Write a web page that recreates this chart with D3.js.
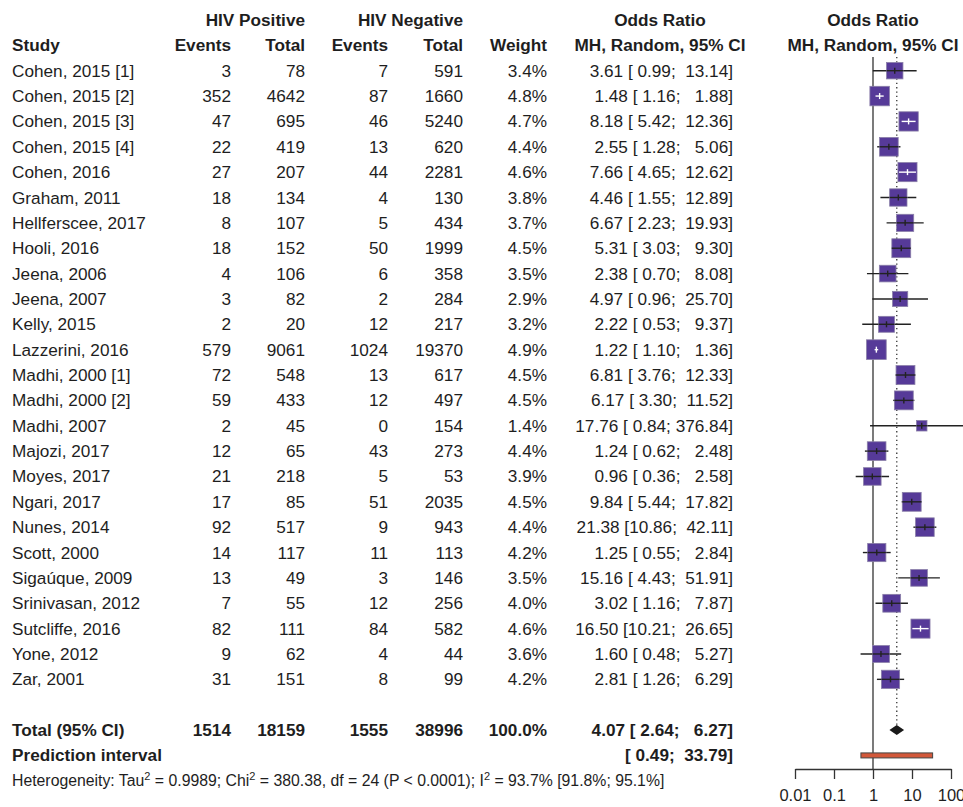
<!DOCTYPE html>
<html>
<head>
<meta charset="utf-8">
<script src="https://cdn.jsdelivr.net/npm/d3@7"></script>
<style>
  body { margin: 0; background: #fff; }
  svg text { font-family: "Liberation Sans", Arial, Helvetica, sans-serif; fill: #1e1e1e; white-space: pre; }
</style>
</head>
<body>
<div id="chart"></div>
<script>
const width = 963;
const height = 807;

const studies = ["Cohen, 2015 [1]", "Cohen, 2015 [2]", "Cohen, 2015 [3]", "Cohen, 2015 [4]", "Cohen, 2016",
  "Graham, 2011", "Hellferscee, 2017", "Hooli, 2016", "Jeena, 2006", "Jeena, 2007", "Kelly, 2015",
  "Lazzerini, 2016", "Madhi, 2000 [1]", "Madhi, 2000 [2]", "Madhi, 2007", "Majozi, 2017", "Moyes, 2017",
  "Ngari, 2017", "Nunes, 2014", "Scott, 2000", "Sigaúque, 2009", "Srinivasan, 2012", "Sutcliffe, 2016",
  "Yone, 2012", "Zar, 2001"];
const posEvents = [3, 352, 47, 22, 27, 18, 8, 18, 4, 3, 2, 579, 72, 59, 2, 12, 21, 17, 92, 14, 13, 7, 82, 9, 31];
const posTotal = [78, 4642, 695, 419, 207, 134, 107, 152, 106, 82, 20, 9061, 548, 433, 45, 65, 218, 85, 517, 117, 49, 55, 111, 62, 151];
const negEvents = [7, 87, 46, 13, 44, 4, 5, 50, 6, 2, 12, 1024, 13, 12, 0, 43, 5, 51, 9, 11, 3, 12, 84, 4, 8];
const negTotal = [591, 1660, 5240, 620, 2281, 130, 434, 1999, 358, 284, 217, 19370, 617, 497, 154, 273, 53, 2035, 943, 113, 146, 256, 582, 44, 99];
const weights = [3.4, 4.8, 4.7, 4.4, 4.6, 3.8, 3.7, 4.5, 3.5, 2.9, 3.2, 4.9, 4.5, 4.5, 1.4, 4.4, 3.9, 4.5, 4.4, 4.2, 3.5, 4.0, 4.6, 3.6, 4.2];
const oddsRatio = [3.61, 1.48, 8.18, 2.55, 7.66, 4.46, 6.67, 5.31, 2.38, 4.97, 2.22, 1.22, 6.81, 6.17, 17.76, 1.24, 0.96, 9.84, 21.38, 1.25, 15.16, 3.02, 16.50, 1.60, 2.81];
const ciLower = [0.99, 1.16, 5.42, 1.28, 4.65, 1.55, 2.23, 3.03, 0.70, 0.96, 0.53, 1.10, 3.76, 3.30, 0.84, 0.62, 0.36, 5.44, 10.86, 0.55, 4.43, 1.16, 10.21, 0.48, 1.26];
const ciUpper = [13.14, 1.88, 12.36, 5.06, 12.62, 12.89, 19.93, 9.30, 8.08, 25.70, 9.37, 1.36, 12.33, 11.52, 376.84, 2.48, 2.58, 17.82, 42.11, 2.84, 51.91, 7.87, 26.65, 5.27, 6.29];

const totalRow = ["1514", "18159", "1555", "38996", "100.0%"];
const pooled = [4.07, 2.64, 6.27];
const predInterval = [0.49, 33.79];
const axisTicks = [0.01, 0.1, 1, 10, 100];

const svg = d3.select("#chart").append("svg")
  .attr("width", width)
  .attr("height", height);

// row index -> vertical centre
const y = d3.scaleLinear().domain([0, 1]).range([70.7, 96.06]);
const x = d3.scaleLog().domain([0.01, 100]).range([795, 951]);
const boxSize = d3.scaleSqrt().domain([0, 1]).range([0, 8.9]);

const fs = 17.2;
const base = 6; // baseline offset from row centre

function pad(s, n) { while (s.length < n) s = " " + s; return s; }
function ciText(est, lo, hi) {
  return est.toFixed(2) + " [" + pad(lo.toFixed(2), 5) + "; " + pad(hi.toFixed(2), 6) + "]";
}

// column right edges
const cols = [231, 305, 388, 463, 547];
const orRight = 733;

function txt(xp, yp, s, anchor, bold, size) {
  return svg.append("text")
    .attr("x", xp).attr("y", yp)
    .attr("text-anchor", anchor)
    .attr("font-size", size || fs)
    .attr("font-weight", bold ? "bold" : "normal")
    .text(s);
}

// headers
txt(305, y(-2) + base, "HIV Positive", "end", true);
txt(463, y(-2) + base, "HIV Negative", "end", true);
txt(660, y(-2) + base, "Odds Ratio", "middle", true);
txt(x(1), y(-2) + base, "Odds Ratio", "middle", true);
txt(12, y(-1) + base, "Study", "start", true);
["Events", "Total", "Events", "Total", "Weight"].forEach((h, i) => txt(cols[i], y(-1) + base, h, "end", true));
txt(660, y(-1) + base, "MH, Random, 95% CI", "middle", true);
txt(x(1), y(-1) + base, "MH, Random, 95% CI", "middle", true);

// study rows
studies.forEach((s, i) => {
  const yy = y(i) + base;
  txt(12, yy, s, "start");
  txt(cols[0], yy, posEvents[i], "end");
  txt(cols[1], yy, posTotal[i], "end");
  txt(cols[2], yy, negEvents[i], "end");
  txt(cols[3], yy, negTotal[i], "end");
  txt(cols[4], yy, weights[i].toFixed(1) + "%", "end");
  txt(orRight, yy, ciText(oddsRatio[i], ciLower[i], ciUpper[i]), "end");
});

// totals
const ty = y(26) + base;
txt(12, ty, "Total (95% CI)", "start", true);
totalRow.forEach((v, i) => txt(cols[i], ty, v, "end", true));
txt(orRight, ty, ciText(pooled[0], pooled[1], pooled[2]), "end", true);
const py = y(27) + base;
txt(12, py, "Prediction interval", "start", true);
txt(orRight, py, "[" + pad(predInterval[0].toFixed(2), 5) + "; " + pad(predInterval[1].toFixed(2), 6) + "]", "end", true);

// heterogeneity
const het = svg.append("text").attr("x", 12).attr("y", y(28) + 5).attr("font-size", 15.8);
het.append("tspan").text("Heterogeneity: Tau");
het.append("tspan").attr("dy", -6).attr("font-size", 11).text("2");
het.append("tspan").attr("dy", 6).text(" = 0.9989; Chi");
het.append("tspan").attr("dy", -6).attr("font-size", 11).text("2");
het.append("tspan").attr("dy", 6).text(" = 380.38, df = 24 (P < 0.0001); I");
het.append("tspan").attr("dy", -6).attr("font-size", 11).text("2");
het.append("tspan").attr("dy", 6).text(" = 93.7% [91.8%; 95.1%]");

// plot
const plot = svg.append("g");
const axisY = 769;

plot.append("line")
  .attr("x1", x(1)).attr("x2", x(1))
  .attr("y1", 57).attr("y2", axisY)
  .attr("stroke", "#333").attr("stroke-width", 1.3);

plot.append("line")
  .attr("x1", x(pooled[0])).attr("x2", x(pooled[0]))
  .attr("y1", 57).attr("y2", y(26) - 5)
  .attr("stroke", "#333").attr("stroke-width", 1.3)
  .attr("stroke-dasharray", "1.3,3");

studies.forEach((s, i) => {
  const cy = y(i);
  const cx = x(oddsRatio[i]);
  const half = boxSize(weights[i]) / 2;
  const x1 = x(ciLower[i]);
  const x2 = Math.min(x(ciUpper[i]), width);
  const inside = x1 > cx - half && x2 < cx + half;
  const lineCol = inside ? "#fff" : "#222";

  if (!inside) {
    plot.append("line")
      .attr("x1", x1).attr("x2", x2).attr("y1", cy).attr("y2", cy)
      .attr("stroke", lineCol).attr("stroke-width", 1.4);
  }
  plot.append("rect")
    .attr("x", cx - half).attr("y", cy - half)
    .attr("width", half * 2).attr("height", half * 2)
    .attr("fill", "#563a98")
    .attr("stroke", "#8a7fa8").attr("stroke-width", 0.8);
  if (inside) {
    plot.append("line")
      .attr("x1", x1).attr("x2", x2).attr("y1", cy).attr("y2", cy)
      .attr("stroke", lineCol).attr("stroke-width", 1.4);
  } else {
    plot.append("line")
      .attr("x1", cx - half).attr("x2", cx + half).attr("y1", cy).attr("y2", cy)
      .attr("stroke", lineCol).attr("stroke-width", 1.4);
  }
  plot.append("line")
    .attr("x1", cx).attr("x2", cx).attr("y1", cy - 3).attr("y2", cy + 3)
    .attr("stroke", lineCol).attr("stroke-width", 1.4);
});

// pooled diamond
const dy = y(26);
plot.append("path")
  .attr("d", `M${x(pooled[1])},${dy} L${x(pooled[0])},${dy - 5} L${x(pooled[2])},${dy} L${x(pooled[0])},${dy + 5} Z`)
  .attr("fill", "#1a1a1a");

// prediction interval
plot.append("rect")
  .attr("x", x(predInterval[0])).attr("y", y(27) - 2.5)
  .attr("width", x(predInterval[1]) - x(predInterval[0])).attr("height", 5)
  .attr("fill", "#d2583a").attr("stroke", "#444").attr("stroke-width", 1);

// axis
const axis = d3.axisBottom(x)
  .tickValues(axisTicks)
  .tickFormat(d => String(d))
  .tickSize(10)
  .tickSizeOuter(0);

const ag = svg.append("g")
  .attr("transform", `translate(0,${axisY})`)
  .call(axis);
ag.select(".domain").attr("stroke", "#333").attr("stroke-width", 1.3);
ag.selectAll(".tick line").attr("stroke", "#333").attr("stroke-width", 1.3);
ag.selectAll(".tick text")
  .attr("font-size", 16.5)
  .attr("dy", "1.15em")
  .style("font-family", "'Liberation Sans', Arial, sans-serif")
  .attr("fill", "#1e1e1e");
</script>
</body>
</html>
